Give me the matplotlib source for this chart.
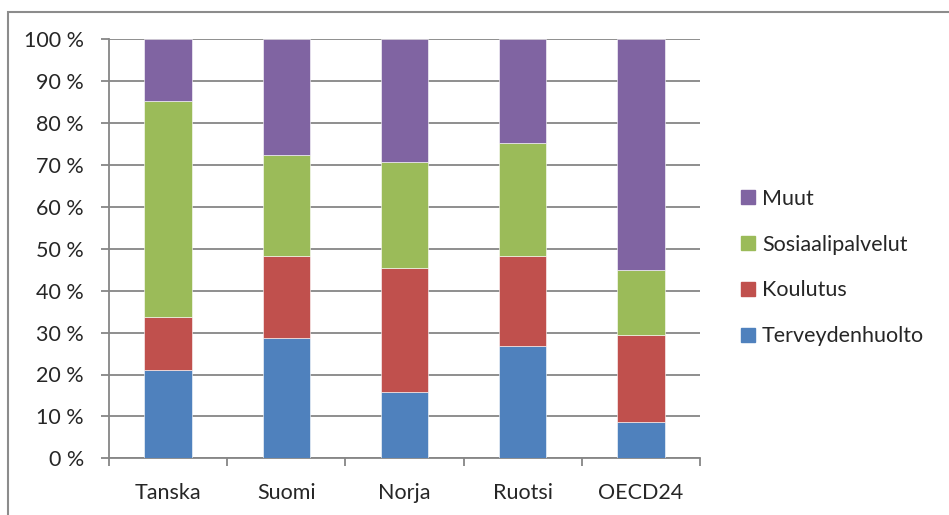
import numpy as np
import matplotlib.pyplot as plt
from matplotlib.patches import Rectangle, Patch
from matplotlib.ticker import FuncFormatter

plt.rcParams['font.family'] = ['Lato', 'DejaVu Sans']

maat = ['Tanska', 'Suomi', 'Norja', 'Ruotsi', 'OECD24']
terveys = [21.1, 28.6, 15.9, 26.9, 8.7]
koulutus = [12.7, 19.8, 29.6, 21.4, 20.7]
sosiaali = [51.5, 23.9, 25.2, 27.0, 15.5]
muut = [14.7, 27.7, 29.3, 24.7, 55.1]

sarjat = [('Terveydenhuolto', terveys, '#4f81bd'),
          ('Koulutus', koulutus, '#c0504d'),
          ('Sosiaalipalvelut', sosiaali, '#9bbb59'),
          ('Muut', muut, '#8064a2')]

fs = 15.5
tc = '#262626'
gc = '#868686'

fig = plt.figure(figsize=(9.49, 5.15), dpi=100)
ax = fig.add_axes([109/949, 1-458.3/515, (700-109)/949, (458.3-39.3)/515])

x = np.arange(len(maat))
alku = np.zeros(len(maat))
for nimi, arvot, vari in sarjat:
    arvot = np.array(arvot)
    ax.bar(x, arvot, bottom=alku, width=0.4, color=vari, edgecolor='white',
           linewidth=0.4, zorder=3)
    alku += arvot

ax.set_ylim(0, 100)
ax.set_xlim(-0.5, len(maat)-0.5)
ax.set_yticks(np.arange(0, 101, 10))
ax.yaxis.set_major_formatter(FuncFormatter(lambda v, p: '%d %%' % v))
ax.set_xticks(x)
ax.set_xticklabels(maat)
ax.set_xticks(np.arange(-0.5, len(maat)), minor=True)
ax.tick_params(axis='x', which='major', length=0, pad=18, labelsize=fs, labelcolor=tc)
ax.tick_params(axis='x', which='minor', length=6, width=1.3, color=gc, direction='out')
ax.tick_params(axis='y', length=6, width=1.3, color=gc, pad=12, labelsize=fs, labelcolor=tc)
ax.grid(axis='y', color=gc, linewidth=1.3, zorder=0)
for s in ['top', 'right']:
    ax.spines[s].set_visible(False)
for s in ['left', 'bottom']:
    ax.spines[s].set_color(gc)
    ax.spines[s].set_linewidth(1.3)

kahvat = [Patch(color=v, label=n) for n, a, v in sarjat][::-1]
fig.legend(handles=kahvat, loc='center left', bbox_to_anchor=(722/949, 1-267.5/515),
           frameon=False, fontsize=fs, labelcolor=tc, handlelength=0.65,
           handleheight=0.65, handletextpad=0.3, labelspacing=1.2)

# kehys kuvan ympärillä
fig.patches.append(Rectangle((8/949, -0.1), 1.2, 1.1 - 12/515, transform=fig.transFigure,
                             fill=False, edgecolor='#8c8c8c', linewidth=1.5))

fig.savefig('out.png', dpi=100)
